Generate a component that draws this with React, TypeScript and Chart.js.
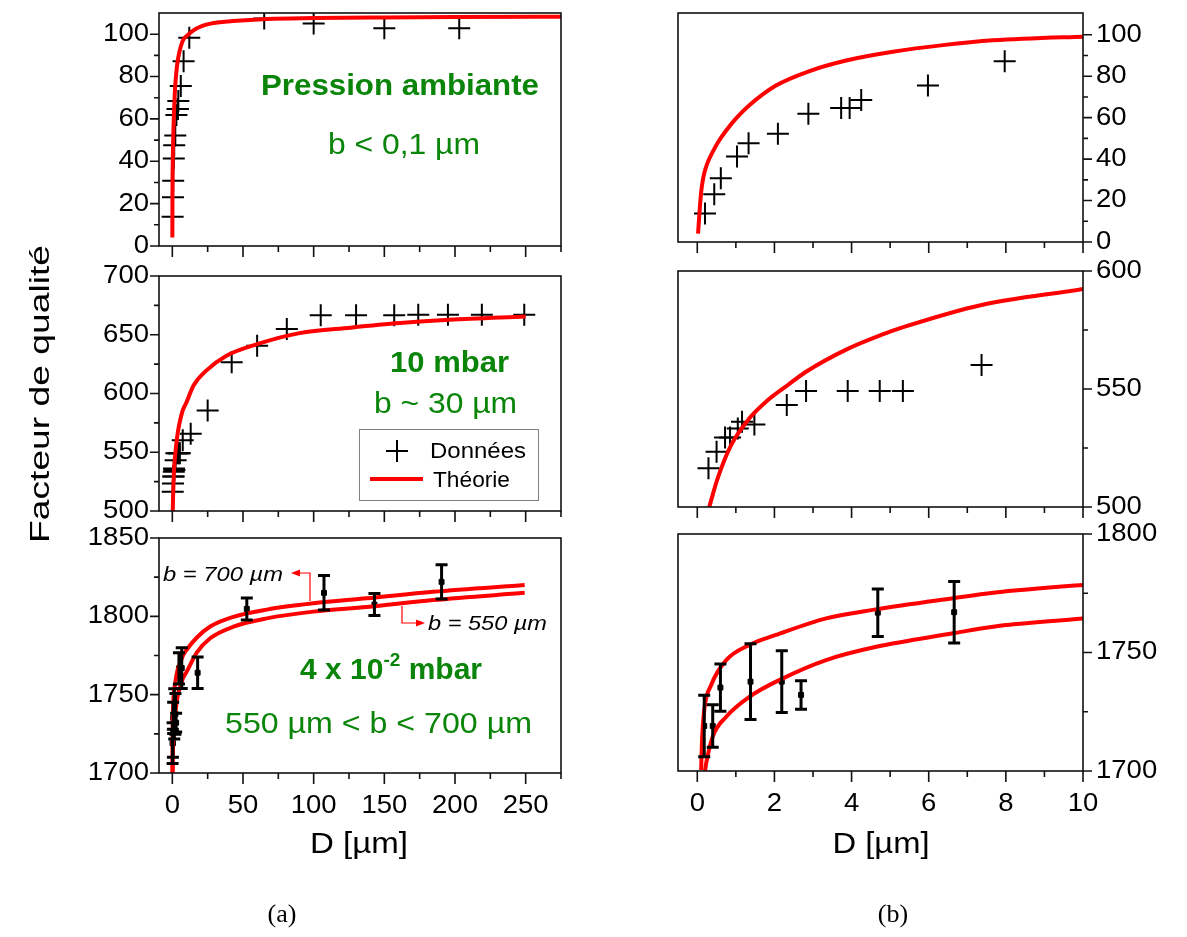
import React, { useEffect, useRef } from "react";
import { Chart, registerables } from "chart.js";

Chart.register(...registerables);

const W = 1187;
const H = 937;

// ---------------- Data ----------------
// Ambient pressure (top row)
const ambD = [0.2, 0.44, 0.61, 1.03, 1.33, 2.09, 2.88, 3.73, 3.95, 4.25, 5.98, 7.97, 12, 65, 100, 150, 203];
const ambQ = [13.8, 23, 30.8, 41.3, 47.6, 52.2, 61.9, 64.7, 64.7, 68.5, 75.5, 87.2, 98.3, 107.4, 105, 102.8, 102.8];
const ambThD = [0.02, 0.06, 0.1, 0.16, 0.25, 0.4, 0.55, 0.75, 1.0, 1.35, 2.04, 2.91, 3.86, 5.07, 6.37, 7.67, 10, 17, 27, 43, 67, 100, 150, 200, 275];
const ambThQ = [4, 15, 24, 31.5, 37.5, 43.5, 48.5, 53.8, 59.5, 66, 75.5, 82.5, 87.6, 91.8, 95, 97.3, 99.1, 102.7, 105, 106.2, 107.2, 107.6, 107.9, 108.1, 108.2];

// 10 mbar (middle row)
const midD = [0.29, 0.5, 0.72, 0.85, 1.05, 1.16, 1.48, 2.32, 2.82, 3.9, 4.73, 5.33, 7.37, 13, 25, 42, 60, 81, 105, 130, 157, 174, 195, 219, 249];
const midQ = [516.4, 523.4, 529.4, 529.4, 533.3, 536.1, 535, 543.2, 549.2, 549.2, 549.2, 549.2, 560.2, 565.8, 585.6, 626.5, 640.7, 654.8, 666.7, 666.7, 666.7, 667, 667, 667, 667];
const midThD = [0.31, 0.53, 0.88, 1.35, 1.78, 2.35, 2.82, 3.9, 4.77, 5.38, 7.37, 10, 15, 24, 38, 60, 90, 126, 161, 196, 250];
const midThQ = [500, 512.2, 526.3, 537.6, 544.6, 551.7, 557.3, 567, 572.9, 576.4, 585.6, 592.4, 606.8, 619.5, 632, 642, 651.4, 656, 659.9, 662.7, 665.5];

// 4 x 10^-2 mbar (bottom row)
const lowD = [0.18, 0.4, 0.6, 1.38, 2.19, 2.69, 4.68, 6.66, 17.9, 52.7, 107.3, 143, 190.5];
const lowQ = [1719, 1719, 1735.2, 1737.7, 1737.7, 1732.1, 1766.8, 1767, 1764, 1804.7, 1815, 1807.5, 1822];
const lowErr = [13, 9, 10, 16, 13, 6, 10, 13, 10, 7, 11, 7, 11];
const th700D = [0.1, 0.12, 0.18, 0.36, 0.75, 1.35, 2.04, 3.34, 4.64, 6.63, 7.67, 10, 17.4, 26.8, 43.3, 66.9, 99.8, 137.5, 184.5, 249.3];
const th700Q = [1700.4, 1711.7, 1725.7, 1736.3, 1746.8, 1753.2, 1757.4, 1764.4, 1768.2, 1772.9, 1775.2, 1778.5, 1786.5, 1793.5, 1799.7, 1804.3, 1808.3, 1811.5, 1815.7, 1820];
const th550D = [0.2, 0.23, 0.4, 0.75, 1.35, 2.22, 3.34, 4.64, 6.63, 7.67, 10, 17.4, 26.8, 43.3, 66.9, 99.8, 137.5, 184.5, 249.3];
const th550Q = [1700, 1703.2, 1714.5, 1722.9, 1731.3, 1739.1, 1746.8, 1752.4, 1758.1, 1760.9, 1764.4, 1777, 1786, 1793.4, 1798.7, 1803, 1806, 1810.4, 1815];

// ---------------- Ticks ----------------
const xTicksA = [0, 50, 100, 150, 200, 250];
const xMinorA = [25, 75, 125, 175, 225, 275];
const xTicksB = [0, 2, 4, 6, 8, 10];
const xMinorB = [1, 3, 5, 7, 9];
const yTicksAmb = [0, 20, 40, 60, 80, 100];
const yMinorAmb = [10, 30, 50, 70, 90];
const yTicksMidA = [500, 550, 600, 650, 700];
const yMinorMidA = [525, 575, 625, 675];
const yTicksMidB = [500, 550, 600];
const yMinorMidB = [525, 575];
const yTicksLowA = [1700, 1750, 1800, 1850];
const yMinorLowA = [1725, 1775, 1825];
const yTicksLowB = [1700, 1750, 1800];
const yMinorLowB = [1725, 1775];

const GREEN = "#0a850a";
const RED = "#ff0000";
const SANS = '"Liberation Sans", Arial, Helvetica, sans-serif';

type PanelSpec = {
  box: [number, number, number, number];
  xRange: [number, number];
  yRange: [number, number];
  xMajor: number[];
  xMinor: number[];
  yMajor: number[];
  yMinor: number[];
  ySide: "left" | "right";
  xLabels: boolean;
  makeDatasets: () => any[];
};

const pts = (xs: number[], ys: number[]) => xs.map((x, i) => ({ x, y: ys[i] }));

const theory = (xs: number[], ys: number[]) => ({
  type: "line",
  data: pts(xs, ys),
  borderColor: RED,
  borderWidth: 4,
  pointRadius: 0,
  showLine: true,
  fill: false,
  cubicInterpolationMode: "monotone",
  clip: 0,
  order: 0,
});

const crosses = (xs: number[], ys: number[]) => ({
  type: "scatter",
  data: pts(xs, ys),
  showLine: false,
  pointStyle: "cross",
  pointRadius: 11,
  pointBorderWidth: 2,
  pointBorderColor: "#000",
  pointBackgroundColor: "#000",
  borderColor: "#000",
  order: 1,
});

const squares = (xs: number[], ys: number[], es: number[]) => ({
  type: "scatter",
  data: xs.map((x, i) => ({ x, y: ys[i], e: es[i] })),
  showLine: false,
  pointStyle: "rect",
  pointRadius: 3.5,
  pointBorderWidth: 1,
  pointBorderColor: "#000",
  pointBackgroundColor: "#000",
  errorBars: true,
  order: 1,
});

const XA: [number, number] = [-9.43, 275];
const XB: [number, number] = [-0.5, 10];

const panels: PanelSpec[] = [
  {
    box: [159, 11, 561, 246], xRange: XA, yRange: [0, 110],
    xMajor: xTicksA, xMinor: xMinorA, yMajor: yTicksAmb, yMinor: yMinorAmb,
    ySide: "left", xLabels: false,
    makeDatasets: () => [theory(ambThD, ambThQ), crosses(ambD, ambQ)],
  },
  {
    box: [159, 276, 561, 511], xRange: XA, yRange: [500, 700],
    xMajor: xTicksA, xMinor: xMinorA, yMajor: yTicksMidA, yMinor: yMinorMidA,
    ySide: "left", xLabels: false,
    makeDatasets: () => [theory(midThD, midThQ), crosses(midD, midQ)],
  },
  {
    box: [159, 538, 561, 773], xRange: XA, yRange: [1700, 1850],
    xMajor: xTicksA, xMinor: xMinorA, yMajor: yTicksLowA, yMinor: yMinorLowA,
    ySide: "left", xLabels: true,
    makeDatasets: () => [theory(th700D, th700Q), theory(th550D, th550Q), squares(lowD, lowQ, lowErr)],
  },
  {
    box: [678, 6, 1083, 242], xRange: XB, yRange: [0, 110.5],
    xMajor: xTicksB, xMinor: xMinorB, yMajor: yTicksAmb, yMinor: yMinorAmb,
    ySide: "right", xLabels: false,
    makeDatasets: () => [theory(ambThD, ambThQ), crosses(ambD, ambQ)],
  },
  {
    box: [678, 271, 1083, 507], xRange: XB, yRange: [500, 600],
    xMajor: xTicksB, xMinor: xMinorB, yMajor: yTicksMidB, yMinor: yMinorMidB,
    ySide: "right", xLabels: false,
    makeDatasets: () => [theory(midThD, midThQ), crosses(midD, midQ)],
  },
  {
    box: [678, 534, 1083, 771], xRange: XB, yRange: [1700, 1800],
    xMajor: xTicksB, xMinor: xMinorB, yMajor: yTicksLowB, yMinor: yMinorLowB,
    ySide: "right", xLabels: true,
    makeDatasets: () => [theory(th700D, th700Q), theory(th550D, th550Q), squares(lowD, lowQ, lowErr)],
  },
];

const TICK_FONT = `25px ${SANS}`;

function axesPlugin(spec: PanelSpec) {
  return {
    id: "panelAxes",
    afterDraw(chart: any) {
      const { ctx, chartArea: a } = chart;
      const xs = chart.scales.x;
      const ys = chart.scales.y;
      ctx.save();
      ctx.strokeStyle = "#111";
      ctx.lineWidth = 1.6;
      ctx.strokeRect(a.left, a.top, a.right - a.left, a.bottom - a.top);
      ctx.beginPath();
      const xt = (v: number, len: number) => {
        const p = xs.getPixelForValue(v);
        ctx.moveTo(p, a.bottom);
        ctx.lineTo(p, a.bottom + len);
      };
      spec.xMajor.forEach((v) => xt(v, 11));
      spec.xMinor.forEach((v) => xt(v, 6));
      const yt = (v: number, len: number) => {
        const p = ys.getPixelForValue(v);
        if (spec.ySide === "left") {
          ctx.moveTo(a.left - len, p);
          ctx.lineTo(a.left, p);
        } else {
          ctx.moveTo(a.right, p);
          ctx.lineTo(a.right + len, p);
        }
      };
      spec.yMajor.forEach((v) => yt(v, 9));
      spec.yMinor.forEach((v) => yt(v, 5));
      ctx.stroke();

      ctx.fillStyle = "#000";
      ctx.font = TICK_FONT;
      const txt = (s: string, x: number, y: number, align: string, base: string) => {
        ctx.save();
        ctx.translate(x, y);
        ctx.scale(1.1, 1);
        ctx.textAlign = align;
        ctx.textBaseline = base;
        ctx.fillText(s, 0, 0);
        ctx.restore();
      };
      if (spec.xLabels) {
        spec.xMajor.forEach((v) => txt(String(v), xs.getPixelForValue(v), a.bottom + 40, "center", "alphabetic"));
      }
      spec.yMajor.forEach((v) => {
        const p = ys.getPixelForValue(v);
        if (spec.ySide === "left") txt(String(v), a.left - 10, p, "right", "middle");
        else txt(String(v), a.right + 13, p, "left", "middle");
      });
      ctx.restore();
    },
  };
}

const errorBarPlugin = {
  id: "errorBars",
  afterDatasetsDraw(chart: any) {
    const { ctx, chartArea: a } = chart;
    const xs = chart.scales.x;
    const ys = chart.scales.y;
    chart.data.datasets.forEach((ds: any) => {
      if (!ds.errorBars) return;
      ctx.save();
      ctx.beginPath();
      ctx.rect(a.left, a.top, a.right - a.left, a.bottom - a.top);
      ctx.clip();
      ctx.strokeStyle = "#000";
      ctx.lineWidth = 3;
      ctx.beginPath();
      ds.data.forEach((p: any) => {
        const px = xs.getPixelForValue(p.x);
        const top = ys.getPixelForValue(p.y + p.e);
        const bot = ys.getPixelForValue(p.y - p.e);
        ctx.moveTo(px, top);
        ctx.lineTo(px, bot);
        ctx.moveTo(px - 6, top);
        ctx.lineTo(px + 6, top);
        ctx.moveTo(px - 6, bot);
        ctx.lineTo(px + 6, bot);
      });
      ctx.stroke();
      ctx.restore();
    });
  },
};

function Panel({ spec }: { spec: PanelSpec }) {
  const ref = useRef<HTMLCanvasElement>(null);
  useEffect(() => {
    const c = ref.current;
    if (!c) return;
    const [l, t, r, b] = spec.box;
    const chart = new Chart(c, {
      type: "scatter",
      data: { datasets: spec.makeDatasets() },
      options: {
        responsive: false,
        animation: false,
        events: [],
        layout: { padding: { left: l, top: t, right: W - r, bottom: H - b } },
        scales: {
          x: { type: "linear", display: false, min: spec.xRange[0], max: spec.xRange[1] },
          y: { type: "linear", display: false, min: spec.yRange[0], max: spec.yRange[1] },
        },
        plugins: { legend: { display: false }, tooltip: { enabled: false } },
      },
      plugins: [axesPlugin(spec), errorBarPlugin],
    } as any);
    return () => chart.destroy();
  }, [spec]);
  return (
    <canvas
      ref={ref}
      width={W}
      height={H}
      style={{ position: "absolute", left: 0, top: 0, width: W, height: H }}
    />
  );
}

function Overlay() {
  const adj = "spacingAndGlyphs";
  return (
    <svg
      width={W}
      height={H}
      style={{ position: "absolute", left: 0, top: 0 }}
      fontFamily={SANS}
    >
      {/* top-left annotations */}
      <text x={400} y={95} textAnchor="middle" fontSize={29} fontWeight="bold" fill={GREEN} textLength={278} lengthAdjust={adj}>
        Pression ambiante
      </text>
      <text x={404} y={154} textAnchor="middle" fontSize={30} fill={GREEN} textLength={152} lengthAdjust={adj}>
        b &lt; 0,1 µm
      </text>

      {/* middle-left annotations */}
      <text x={449.5} y={371.5} textAnchor="middle" fontSize={29} fontWeight="bold" fill={GREEN} textLength={119} lengthAdjust={adj}>
        10 mbar
      </text>
      <text x={445.5} y={413} textAnchor="middle" fontSize={30} fill={GREEN} textLength={143} lengthAdjust={adj}>
        b ~ 30 µm
      </text>

      {/* legend */}
      <rect x={359.5} y={429.5} width={179} height={71} fill="#fff" stroke="#808080" strokeWidth={1} />
      <line x1={386} y1={451} x2={408} y2={451} stroke="#000" strokeWidth={2} />
      <line x1={397} y1={440} x2={397} y2={462} stroke="#000" strokeWidth={2} />
      <text x={430} y={458} fontSize={22} fill="#000" textLength={96} lengthAdjust={adj}>
        Données
      </text>
      <line x1={370} y1={479} x2={423} y2={479} stroke={RED} strokeWidth={4} />
      <text x={433} y={487} fontSize={22} fill="#000" textLength={77} lengthAdjust={adj}>
        Théorie
      </text>

      {/* bottom-left annotations */}
      <text x={163} y={580.5} fontSize={21} fontStyle="italic" fill="#000" textLength={120} lengthAdjust={adj}>
        b = 700 µm
      </text>
      <polyline points="310,601 310,573 299,573" fill="none" stroke={RED} strokeWidth={1.2} />
      <polygon points="291,573 300,569.5 300,576.5" fill={RED} />
      <text x={428} y={630} fontSize={21} fontStyle="italic" fill="#000" textLength={119} lengthAdjust={adj}>
        b = 550 µm
      </text>
      <polyline points="402,606 402,623 416,623" fill="none" stroke={RED} strokeWidth={1.2} />
      <polygon points="425,623 416,619.5 416,626.5" fill={RED} />
      <text x={300} y={679} fontSize={30} fontWeight="bold" fill={GREEN}>
        4 x 10
        <tspan dy={-13} fontSize={19}>-2</tspan>
        <tspan dy={13}>{" mbar"}</tspan>
      </text>
      <text x={378.5} y={732.5} textAnchor="middle" fontSize={29} fill={GREEN} textLength={307} lengthAdjust={adj}>
        550 µm &lt; b &lt; 700 µm
      </text>

      {/* axis titles */}
      <text
        transform="translate(49,394) rotate(-90)"
        x={0}
        y={0}
        textAnchor="middle"
        fontSize={27}
        fill="#000"
        textLength={298}
        lengthAdjust={adj}
      >
        Facteur de qualité
      </text>
      <text x={359} y={853} textAnchor="middle" fontSize={30} fill="#000" textLength={98} lengthAdjust={adj}>
        D [µm]
      </text>
      <text x={881} y={853} textAnchor="middle" fontSize={30} fill="#000" textLength={97} lengthAdjust={adj}>
        D [µm]
      </text>

      {/* sub-figure captions */}
      <text x={282} y={922} textAnchor="middle" fontSize={26} fill="#000" fontFamily='"Liberation Serif", "Times New Roman", serif'>
        (a)
      </text>
      <text x={893} y={922} textAnchor="middle" fontSize={26} fill="#000" fontFamily='"Liberation Serif", "Times New Roman", serif'>
        (b)
      </text>
    </svg>
  );
}

export default function App() {
  return (
    <div style={{ position: "absolute", left: 0, top: 0, width: W, height: H, background: "#fff", overflow: "hidden" }}>
      {panels.map((p, i) => (
        <Panel key={i} spec={p} />
      ))}
      <Overlay />
    </div>
  );
}
